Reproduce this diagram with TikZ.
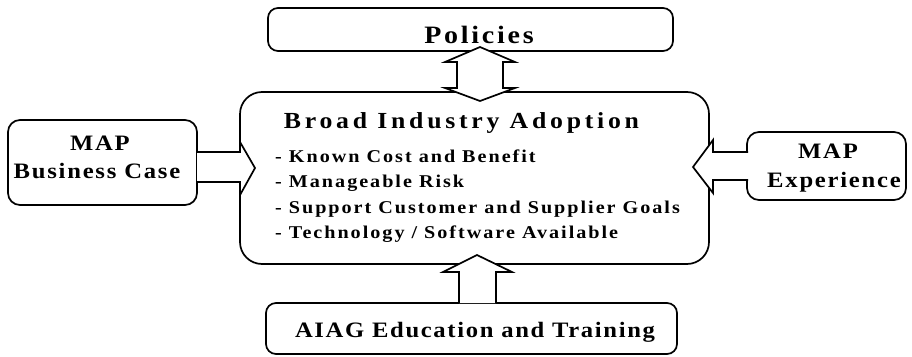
\documentclass[tikz,border=0pt]{standalone}
\usepackage{fontspec}
\newfontfamily\dfont[FakeStretch=1.12]{Liberation Serif}
\begin{document}
\begin{tikzpicture}[x=1pt,y=-1pt,
  box/.style={draw=black, line width=1.7pt, fill=white, inner sep=0pt},
  blockarrow/.style={draw=black, line width=1.7pt, fill=white, line join=miter},
  lbl/.style={inner sep=0pt, anchor=base, text=black}]
\useasboundingbox (0,0) rectangle (912,356);

% boxes
\node[box, rounded corners=10pt, minimum width=405pt, minimum height=43pt] (pol) at (470.5,29.5) {};
\node[box, rounded corners=22pt, minimum width=469pt, minimum height=172pt] (adopt) at (474.5,178) {};
\node[box, rounded corners=12pt, minimum width=189pt, minimum height=85pt] (biz) at (102.5,162.5) {};
\node[box, rounded corners=12pt, minimum width=159pt, minimum height=68pt] (exp) at (826.5,166) {};
\node[box, rounded corners=10pt, minimum width=411pt, minimum height=51pt] (aiag) at (471.5,328.5) {};

% block arrows (drawn over the box outlines)
\draw[blockarrow] (480,47) -- (515,62) -- (503,62) -- (503,88) -- (515,88) -- (480,101)
  -- (445,88) -- (457,88) -- (457,62) -- (445,62) -- cycle;
\draw[blockarrow] (197,152) -- (240,152) -- (240,142) -- (255,168) -- (240,195)
  -- (240,182) -- (197,182);
\draw[blockarrow] (748,152) -- (713,152) -- (713,140) -- (693,167) -- (713,193)
  -- (713,180) -- (748,180);
\draw[blockarrow] (459,303) -- (459,272) -- (443,272) -- (477,255) -- (512,272)
  -- (496,272) -- (496,303);

% texts
\node[lbl, font={\dfont\bfseries\fontsize{25}{30}\selectfont\addfontfeature{LetterSpace=11}}] (polt) at (479,43) {Policies};
\node[lbl, font={\dfont\bfseries\fontsize{23}{28}\selectfont\addfontfeature{LetterSpace=16.3}}] (title) at (461.5,128) {Broad Industry Adoption};
\tikzset{bullet/.style={inner sep=0pt, anchor=base west,
  font={\dfont\bfseries\fontsize{18}{22}\selectfont\addfontfeature{LetterSpace=11}}}}
\node[bullet] (b1) at (275,162) {- Known Cost and Benefit};
\node[bullet] (b2) at (275,187.5) {- Manageable Risk};
\node[bullet] (b3) at (275,213) {- Support Customer and Supplier Goals};
\node[bullet] (b4) at (275,238.5) {- Technology / Software Available};
\tikzset{side/.style={lbl, font={\dfont\bfseries\fontsize{22}{26}\selectfont\addfontfeature{LetterSpace=8}}}}
\node[side] (biz1) at (100,150) {MAP};
\node[side] (biz2) at (97,178) {Business Case};
\node[side] (exp1) at (828,158) {MAP};
\node[side] (exp2) at (834,187) {Experience};
\node[lbl, font={\dfont\bfseries\fontsize{22}{26}\selectfont\addfontfeature{LetterSpace=7.5}}] (aiagt) at (475,337) {AIAG Education and Training};
\end{tikzpicture}
\end{document}
